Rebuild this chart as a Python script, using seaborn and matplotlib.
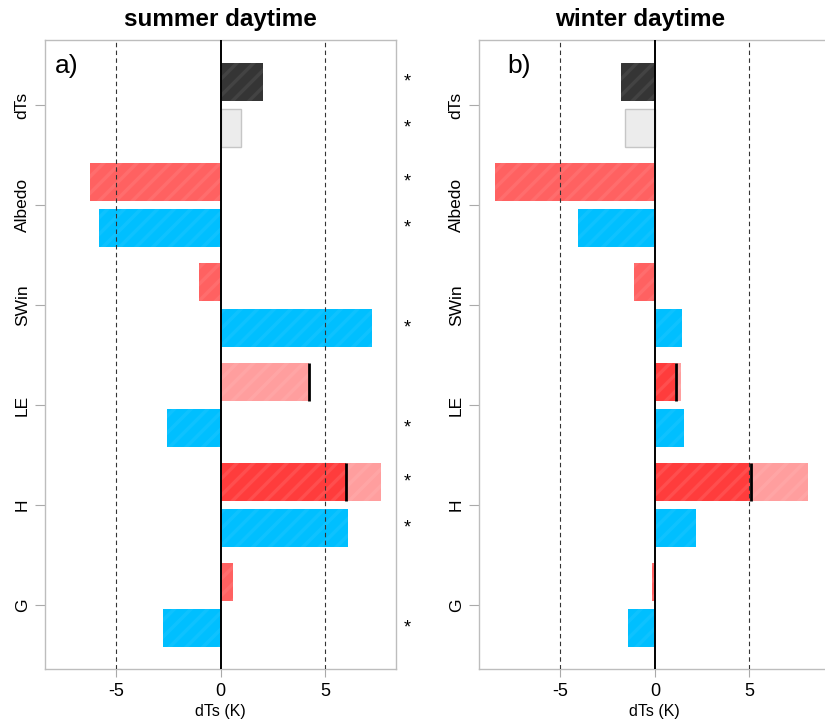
import numpy as np
import pandas as pd
import matplotlib
matplotlib.use("Agg")
import matplotlib.pyplot as plt
import seaborn as sns

# surface temperature decomposition terms
terms = ["dTs", "Albedo", "SWin", "LE", "H", "G"]

summer_upper = [2.05, -6.27, -1.05, 0.08, 6.02, 0.58]
summer_lower = [1.0, -5.8, 7.26, -2.55, 6.1, -2.74]
summer_total = [np.nan, np.nan, np.nan, 4.25, 7.7, np.nan]
summer_mark = [np.nan, np.nan, np.nan, 4.22, 6.02, np.nan]
summer_star_upper = [True, True, False, False, True, False]
summer_star_lower = [True, True, True, True, True, True]

winter_upper = [-1.8, -8.45, -1.1, 1.06, 5.03, -0.14]
winter_lower = [-1.57, -4.06, 1.41, 1.53, 2.15, -1.41]
winter_total = [np.nan, np.nan, np.nan, 1.36, 8.08, np.nan]
winter_mark = [np.nan, np.nan, np.nan, 1.1, 5.1, np.nan]

RED = (1.0, 0.0, 0.0, 0.62)
PINK = (1.0, 0.0, 0.0, 0.38)
BLUE = "#00BFFF"
DARK = "#353535"
LIGHT = "#ececec"
STRIPE = (1.0, 1.0, 1.0, 0.08)

sns.set_style("white")
plt.rcParams["font.family"] = ["Liberation Sans", "DejaVu Sans"]
plt.rcParams["axes.unicode_minus"] = False
plt.rcParams["hatch.linewidth"] = 2.5
for key in ("text.color", "axes.labelcolor", "xtick.color", "ytick.color"):
    plt.rcParams[key] = "black"


def draw_panel(ax, upper, lower, total, mark, star_up, star_low, xlim, title, tag, tag_x, title_x):
    df = pd.DataFrame({
        "term": terms * 2,
        "part": ["upper"] * len(terms) + ["lower"] * len(terms),
        "value": list(upper) + list(lower),
    })
    sns.barplot(data=df, x="value", y="term", hue="part", order=terms,
                hue_order=["upper", "lower"], orient="h", width=0.92, gap=0.17,
                errorbar=None, legend=False, ax=ax)

    up_bars, low_bars = ax.containers[0], ax.containers[1]
    trans = ax.get_yaxis_transform()
    for i, (pu, pl) in enumerate(zip(up_bars, low_bars)):
        if terms[i] == "dTs":
            pu.set_facecolor(DARK)
            pu.set_edgecolor((1, 1, 1, 0.07))
            pu.set_hatch("//")
            pu.set_linewidth(0)
            pl.set_facecolor(LIGHT)
            pl.set_edgecolor("#c6c6c6")
            pl.set_linewidth(1)
        else:
            pu.set_facecolor(RED)
            pu.set_edgecolor(STRIPE)
            pu.set_hatch("//")
            pu.set_linewidth(0)
            pl.set_facecolor(BLUE)
            pl.set_edgecolor((1, 1, 1, 0.06))
            pl.set_hatch("//")
            pl.set_linewidth(0)

        yc = pu.get_y() + pu.get_height() / 2
        h = pu.get_height()
        if not np.isnan(total[i]):
            ax.barh(yc, total[i], height=h, color=PINK, edgecolor=STRIPE,
                    hatch="//", linewidth=0, zorder=0.9)
        if not np.isnan(mark[i]):
            ax.vlines(mark[i], yc - h / 2, yc + h / 2, color="black", lw=2, zorder=4)

        if star_up[i]:
            ax.text(1.033, yc, "*", transform=trans, ha="center", va="center",
                    fontsize=13, clip_on=False)
        if star_low[i]:
            yl = pl.get_y() + pl.get_height() / 2
            ax.text(1.033, yl, "*", transform=trans, ha="center", va="center",
                    fontsize=13, clip_on=False)

    ax.axvline(0, color="black", lw=1.4, zorder=5)
    for v in (-5, 5):
        ax.axvline(v, color="#333333", lw=0.8, ls=(0, (4, 3)), zorder=4)

    ax.set_xlim(*xlim)
    ax.set_ylim(len(terms) - 0.36, -0.65)
    ax.set_xticks([-5, 0, 5])
    ax.set_xticklabels(["-5", "0", "5"])
    ax.set_ylabel("")
    ax.set_xlabel("dTs (K)", fontsize=11.5, labelpad=3)
    ax.tick_params(axis="y", left=True, length=7, color="#aaaaaa", labelsize=12.5,
                   labelrotation=90, pad=4)
    ax.tick_params(axis="x", bottom=True, length=6, color="#aaaaaa", labelsize=13, pad=4)
    for lab in ax.get_yticklabels():
        lab.set_va("center")
    for s in ax.spines.values():
        s.set_color("#bdbdbd")
        s.set_linewidth(1)

    ax.set_title(title, fontsize=17.5, fontweight="bold", pad=10)
    ax.title.set_x(title_x)
    ax.text(tag_x, 0.959, tag, transform=ax.transAxes, fontsize=19, va="center", ha="left")


fig = plt.figure(figsize=(8.25, 7.19), dpi=100)
ax_a = fig.add_axes([45 / 825, 1 - 669 / 719, 351 / 825, 629 / 719])
ax_b = fig.add_axes([479 / 825, 1 - 669 / 719, 351 / 825, 629 / 719])

draw_panel(ax_a, summer_upper, summer_lower, summer_total, summer_mark,
           summer_star_upper, summer_star_lower, (-8.4, 8.4),
           "summer daytime", "a)", 0.028, 0.5)
draw_panel(ax_b, winter_upper, winter_lower, winter_total, winter_mark,
           [False] * 6, [False] * 6, (-9.31, 9.26),
           "winter daytime", "b)", 0.08, 0.459)

fig.savefig("out.png", dpi=100)
